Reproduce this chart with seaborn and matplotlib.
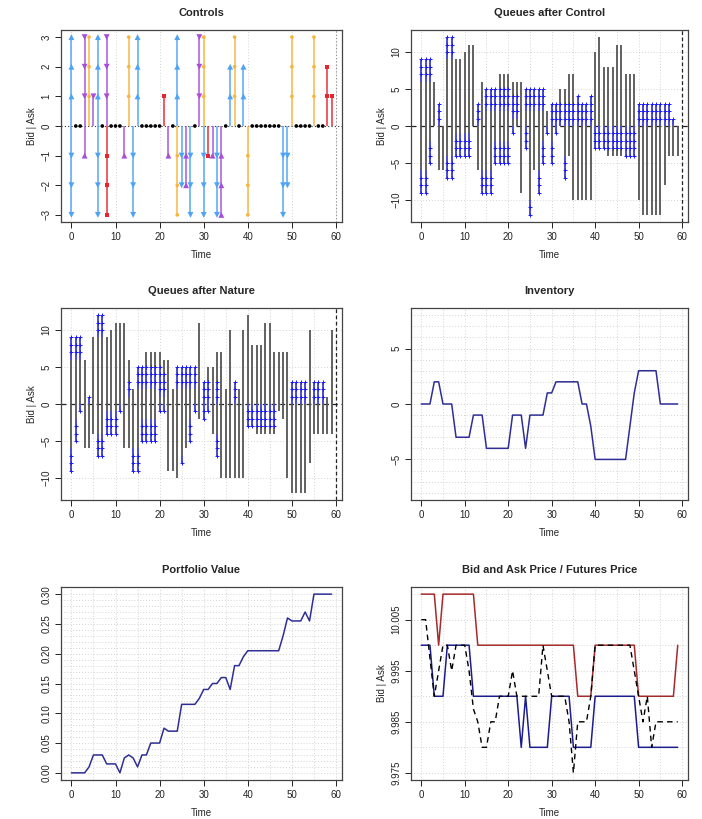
import numpy as np
import pandas as pd
import matplotlib
matplotlib.use("Agg")
import matplotlib.pyplot as plt
import seaborn as sns

sns.set_theme(style="white")
plt.rcParams["font.family"] = ["Liberation Sans", "DejaVu Sans"]

time = list(range(60))

# ---------------- Controls (ask side positive, bid side negative) ----------------
ctrl_ask_size = [3,0,0,3,3,1,3,0,3,0, 0,0,0,3,0,3,0,0,0,0, 0,1,0,0,3,0,0,0,0,3,
                 3,0,0,0,0,0,2,3,0,2, 0,0,0,0,0,0,0,0,0,0, 3,0,0,0,0,3,0,0,2,1]
ctrl_ask_type = list("LNNCTCLNCN" "NNNTNLNNNN" "NMNNLNNNNC" "TNNNNNLTNL" "NNNNNNNNNN" "TNNNNTNNMM")
ctrl_bid_size = [3,0,0,1,0,0,3,0,3,0, 0,0,1,0,3,0,0,0,0,0, 0,0,1,0,3,2,2,3,0,0,
                 3,1,1,3,3,0,0,0,0,0, 3,0,0,0,0,0,0,0,3,2, 0,0,0,0,0,0,0,0,0,0]
ctrl_bid_type = list("LNNCNNLNMN" "NNCNLNNNNN" "NNCNTLCLNN" "LMCLCNNNNN" "TNNNNNNNLL" "NNNNNNNNNN")

# ---------------- Queues after control ----------------
qc_ask_len = [9,9,9,6,3,0,12,12,9,9, 10,11,11,3,6,5,5,5,7,7, 7,6,6,6,5,5,5,5,5,2,
              3,3,5,5,7,7,4,3,3,4, 10,12,8,8,8,11,11,7,7,7, 3,3,3,3,3,3,3,3,1,0]
qc_ask_blue_lo = [6,6,6,0,0,0,9,9,0,0, 0,0,0,0,0,2,2,2,2,2, 2,1,1,0,2,2,2,2,2,0,
                  0,0,0,0,0,0,0,0,0,0, 0,0,0,0,0,0,0,0,0,0, 0,0,0,0,0,0,0,0,0,0]
qc_ask_blue_hi = [9,9,9,0,3,0,12,12,0,0, 0,0,0,3,0,5,5,5,5,5, 5,4,4,0,5,5,5,5,5,0,
                  3,3,3,3,3,3,4,3,3,4, 0,0,0,0,0,0,0,0,0,0, 3,3,3,3,3,3,3,3,1,0]
qc_bid_len = [9,9,5,0,6,6,7,7,4,4, 4,4,0,6,9,9,9,5,5,5, 5,1,0,9,3,12,6,9,5,1,
              5,1,0,7,4,10,10,10,10,10, 3,3,3,4,4,4,4,4,4,4, 10,12,12,12,12,12,8,4,4,4]
qc_bid_blue_lo = [6,6,2,0,0,0,4,4,1,1, 1,1,0,0,6,6,6,2,2,2, 2,0,0,0,0,10,0,6,2,0,
                  2,0,0,4,0,0,0,0,0,0, 0,0,0,0,0,0,0,0,0,0, 0,0,0,0,0,0,0,0,0,0]
qc_bid_blue_hi = [9,9,5,0,0,0,7,7,4,4, 4,4,0,0,9,9,9,5,5,5, 5,1,0,0,3,12,0,9,5,1,
                  5,1,0,7,0,0,0,0,0,0, 3,3,3,3,3,3,3,4,4,4, 0,0,0,0,0,0,0,0,0,0]

# ---------------- Queues after nature ----------------
qn_ask_len = [9,9,9,6,1,9,12,12,9,10, 11,11,11,6,2,5,5,7,7,7, 7,6,6,2,5,5,5,5,5,11,
              3,5,5,7,7,2,10,3,2,10, 12,8,8,8,11,11,7,7,7,7, 3,3,3,3,10,3,3,3,1,10]
qn_ask_blue_lo = [6,6,6,0,0,0,9,9,0,0, 0,0,0,1,0,2,2,2,2,2, 1,1,0,0,2,2,2,2,2,0,
                  0,0,0,0,0,0,0,0,0,0, 0,0,0,0,0,0,0,0,0,0, 0,0,0,0,0,0,0,0,0,0]
qn_ask_blue_hi = [9,9,9,0,1,0,12,12,0,0, 0,0,0,3,0,5,5,5,5,5, 5,4,0,0,5,5,5,5,5,0,
                  3,3,0,3,0,0,0,3,0,0, 0,0,0,0,0,0,0,0,0,0, 3,3,3,3,0,3,3,3,0,0]
qn_bid_len = [9,5,1,6,6,4,7,7,4,4, 4,1,6,6,9,9,5,5,5,5, 1,1,9,9,10,8,6,5,1,2,
              2,1,4,7,10,10,10,10,10,10, 3,3,4,4,4,4,4,1,2,10, 12,12,12,12,8,4,4,4,4,4]
qn_bid_blue_lo = [6,2,0,0,0,0,4,4,1,1, 1,0,0,0,6,6,2,2,2,2, 0,0,0,0,0,7,0,2,0,0,
                  0,0,0,4,0,0,0,0,0,0, 0,0,0,0,0,0,0,0,0,0, 0,0,0,0,0,0,0,0,0,0]
qn_bid_blue_hi = [9,5,1,0,0,0,7,7,4,4, 4,1,0,0,9,9,5,5,5,5, 1,1,0,0,0,8,0,5,1,0,
                  2,1,0,7,0,0,0,0,0,0, 3,3,3,3,3,3,3,0,0,0, 0,0,0,0,0,0,0,0,0,0]

# ---------------- Inventory / portfolio / prices ----------------
inventory = [0,0,0,2,2,0,0,0,-3,-3, -3,-3,-1,-1,-1,-4,-4,-4,-4,-4, -4,-1,-1,-1,-4,-1,-1,-1,-1,1,
             1,2,2,2,2,2,2,0,0,-2, -5,-5,-5,-5,-5,-5,-5,-5,-2,1, 3,3,3,3,3,0,0,0,0,0]
portfolio = [0,0,0,0,0.01,0.03,0.03,0.03,0.015,0.015, 0.015,0.0,0.025,0.03,0.025,0.01,0.03,0.03,0.05,0.05,
             0.05,0.075,0.07,0.07,0.07,0.115,0.115,0.115,0.115,0.125, 0.14,0.14,0.15,0.15,0.16,0.16,0.14,0.18,0.18,0.195,
             0.205,0.205,0.205,0.205,0.205,0.205,0.205,0.205,0.23,0.26, 0.255,0.255,0.255,0.27,0.255,0.30,0.30,0.30,0.30,0.30]
ask_price = [10.010,10.010,10.010,10.010,10.000,10.010,10.010,10.010,10.010,10.010,
             10.010,10.010,10.010,10.000,10.000,10.000,10.000,10.000,10.000,10.000,
             10.000,10.000,10.000,10.000,10.000,10.000,10.000,10.000,10.000,10.000,
             10.000,10.000,10.000,10.000,10.000,10.000,9.990,9.990,9.990,9.990,
             10.000,10.000,10.000,10.000,10.000,10.000,10.000,10.000,10.000,10.000,
             9.990,9.990,9.990,9.990,9.990,9.990,9.990,9.990,9.990,10.000]
bid_price = [10.000,10.000,10.000,9.990,9.990,9.990,10.000,10.000,10.000,10.000,
             10.000,10.000,9.990,9.990,9.990,9.990,9.990,9.990,9.990,9.990,
             9.990,9.990,9.990,9.980,9.990,9.980,9.980,9.980,9.980,9.980,
             9.990,9.990,9.990,9.990,9.990,9.980,9.980,9.980,9.980,9.980,
             9.990,9.990,9.990,9.990,9.990,9.990,9.990,9.990,9.990,9.990,
             9.980,9.980,9.980,9.980,9.980,9.980,9.980,9.980,9.980,9.980]
futures_price = [10.005,10.005,9.9975,9.990,9.995,10.000,10.000,9.995,10.000,10.000,
                 10.000,9.995,9.9875,9.985,9.980,9.980,9.985,9.985,9.990,9.990,
                 9.990,9.995,9.990,9.990,9.990,9.990,9.990,9.990,10.000,9.995,
                 9.990,9.990,9.990,9.990,9.985,9.975,9.985,9.985,9.985,9.990,
                 10.000,10.000,10.000,10.000,10.000,10.000,10.000,10.000,10.000,9.995,
                 9.990,9.985,9.990,9.980,9.985,9.985,9.985,9.985,9.985,9.985]

TYPE_COLORS = {"L": "#4da3f5", "C": "#a64fd9", "T": "#f9b43c", "M": "#e8242c"}
TYPE_MARKERS_POS = {"L": "^", "C": "v", "T": "o", "M": "s"}
TYPE_MARKERS_NEG = {"L": "v", "C": "^", "T": "o", "M": "s"}
TYPE_MSIZE = {"L": 18, "C": 18, "T": 7, "M": 9}

W, H = 702, 819
fig = plt.figure(figsize=(W / 100, H / 100), dpi=100)

def box(l, t, r, b):
    return [l / W, 1 - b / H, (r - l) / W, (b - t) / H]

cols = [(61, 342), (411, 688)]
rows = [(30, 222), (308, 500), (587, 780)]
axes = [[fig.add_axes(box(c[0], r[0], c[1], r[1])) for c in cols] for r in rows]

XLIM = (-2.36, 61.36)
GRID = dict(color="#d4d4d4", lw=0.7, ls=(0, (1, 2)), zorder=0)

def style(ax, title, ylabel, ylim, yticks, ylabels=None, xgrid=(), ygrid=()):
    ax.set_xlim(XLIM)
    ax.set_ylim(ylim)
    for g in xgrid:
        ax.axvline(g, **GRID)
    for g in ygrid:
        ax.axhline(g, **GRID)
    ax.set_xticks(range(0, 61, 10))
    ax.set_yticks(yticks)
    if ylabels is not None:
        ax.set_yticklabels(ylabels)
    ax.set_title(title, fontsize=8, fontweight="bold", pad=10)
    ax.set_xlabel("Time", fontsize=7, labelpad=6)
    ax.set_ylabel(ylabel, fontsize=7, labelpad=3)
    ax.tick_params(direction="out", length=4, width=0.7, colors="#222222",
                   labelsize=7, bottom=True, left=True, pad=3)
    plt.setp(ax.get_yticklabels(), rotation=90, va="center")
    for s in ax.spines.values():
        s.set_color("#444444")
        s.set_linewidth(0.9)
    ax.set_facecolor("white")

# ---- Controls ----
ax = axes[0][0]
rows_pts = []
for t in time:
    for size, typ, sign in ((ctrl_ask_size[t], ctrl_ask_type[t], 1), (ctrl_bid_size[t], ctrl_bid_type[t], -1)):
        if size > 0:
            ax.vlines(t, 0, sign * size, color=TYPE_COLORS[typ], lw=1.3, alpha=0.8, zorder=2)
            for k in range(1, size + 1):
                rows_pts.append({"t": t, "y": sign * k, "typ": typ, "sign": sign})
pts = pd.DataFrame(rows_pts)
ax.axhline(0, color="#333333", lw=0.8, ls=(0, (1, 2)), zorder=1)
ax.axvline(60, color="#888888", lw=0.8, ls=(0, (1, 2)), zorder=1)
for (typ, sign), g in pts.groupby(["typ", "sign"]):
    mk = TYPE_MARKERS_POS[typ] if sign > 0 else TYPE_MARKERS_NEG[typ]
    sns.scatterplot(data=g, x="t", y="y", ax=ax, marker=mk, s=TYPE_MSIZE[typ],
                    color=TYPE_COLORS[typ], edgecolor="none", linewidth=0, zorder=3, legend=False)
idle = pd.DataFrame({"t": [t for t in time if ctrl_ask_size[t] == 0 and ctrl_bid_size[t] == 0]})
idle["y"] = 0
sns.scatterplot(data=idle, x="t", y="y", ax=ax, color="black", s=7, edgecolor="none", zorder=4, legend=False)
style(ax, "Controls", "Bid | Ask", (-3.24, 3.24), range(-3, 4), xgrid=range(0, 61, 10))

# ---- Queue panels ----
def queues(ax, title, ask_len, a_lo, a_hi, bid_len, b_lo, b_hi):
    ax.vlines(time, [-b for b in bid_len], ask_len, color="#555555", lw=1.3, zorder=2)
    bp = []
    for t in time:
        if a_hi[t] > a_lo[t]:
            ax.vlines(t, a_lo[t], a_hi[t], color="#4a4af5", lw=1.4, alpha=0.8, zorder=3)
            bp += [{"t": t, "y": k} for k in range(a_lo[t] + 1, a_hi[t] + 1)]
        if b_hi[t] > b_lo[t]:
            ax.vlines(t, -b_lo[t], -b_hi[t], color="#4a4af5", lw=1.4, alpha=0.8, zorder=3)
            bp += [{"t": t, "y": -k} for k in range(b_lo[t] + 1, b_hi[t] + 1)]
    bp = pd.DataFrame(bp)
    sns.scatterplot(data=bp, x="t", y="y", ax=ax, marker="+", s=6, color="#1a1aff",
                    linewidth=0.7, zorder=4, legend=False)
    ax.axhline(0, color="#222222", lw=0.9, ls=(0, (4, 3)), zorder=1)
    ax.axvline(60, color="#222222", lw=0.9, ls=(0, (3, 2)), zorder=1)
    style(ax, title, "Bid | Ask", (-12.96, 12.96), [-10, -5, 0, 5, 10],
          xgrid=range(0, 61, 5), ygrid=[-10, -5, 5, 10])

queues(axes[0][1], "Queues after Control", qc_ask_len, qc_ask_blue_lo, qc_ask_blue_hi,
       qc_bid_len, qc_bid_blue_lo, qc_bid_blue_hi)
queues(axes[1][0], "Queues after Nature", qn_ask_len, qn_ask_blue_lo, qn_ask_blue_hi,
       qn_bid_len, qn_bid_blue_lo, qn_bid_blue_hi)

# ---- Inventory ----
ax = axes[1][1]
sns.lineplot(x=time, y=inventory, ax=ax, color="#2e2e96", lw=1.1, zorder=3)
style(ax, "Inventory", "", (-8.66, 8.66), [-5, 0, 5],
      xgrid=range(0, 61, 5), ygrid=range(-8, 9))

# ---- Portfolio ----
ax = axes[2][0]
sns.lineplot(x=time, y=portfolio, ax=ax, color="#2e2e96", lw=1.1, zorder=3)
style(ax, "Portfolio Value", "", (-0.012, 0.312), [0, 0.05, 0.10, 0.15, 0.20, 0.25, 0.30],
      ["0.00", "0.05", "0.10", "0.15", "0.20", "0.25", "0.30"],
      xgrid=range(0, 61, 5), ygrid=np.arange(0, 0.305, 0.01))

# ---- Prices ----
ax = axes[2][1]
sns.lineplot(x=time, y=ask_price, ax=ax, color="#a52a2a", lw=1.1, zorder=3)
sns.lineplot(x=time, y=bid_price, ax=ax, color="#1c1c8c", lw=1.1, zorder=3)
sns.lineplot(x=time, y=futures_price, ax=ax, color="black", lw=1.0, zorder=4, linestyle=(0, (4, 3)))
style(ax, "Bid and Ask Price / Futures Price", "Bid | Ask", (9.9736, 10.0114),
      [9.975, 9.985, 9.995, 10.005], ["9.975", "9.985", "9.995", "10.005"],
      xgrid=range(0, 61, 5), ygrid=np.arange(9.975, 10.011, 0.005))

fig.savefig("out.png", dpi=100)
